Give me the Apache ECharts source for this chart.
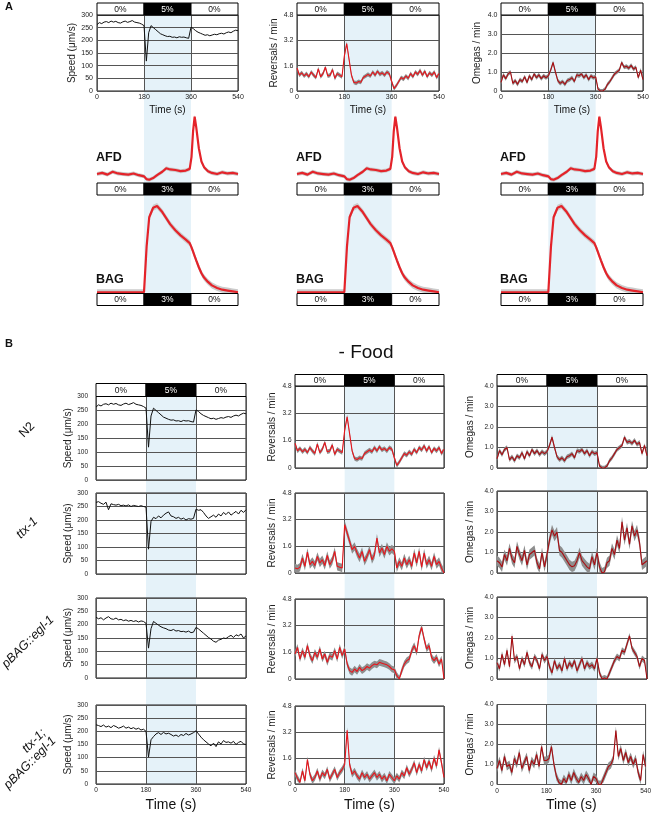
<!DOCTYPE html>
<html>
<head>
<meta charset="utf-8">
<script src="https://cdn.jsdelivr.net/npm/echarts@6/dist/echarts.min.js"></script>
<style>html,body{margin:0;padding:0;background:#fff}#c{width:654px;height:815px}</style>
</head>
<body>
<div id="c"></div>
<script>
(() => {
  "use strict";
  // samples every 9 s, 0..540
  const STEP = 9;
  const STIM_SEG = [[0, 180], [180, 360], [360, 540]];
  const ODOR_LABELS = ["0%", "5%", "0%"];
  const CA_LABELS = ["0%", "3%", "0%"];
  const SHADE = [180, 360];

  const SPEED_N2 = [262, 270, 266, 272, 274, 270, 276, 272, 275, 270, 268, 273, 276, 271, 274, 278, 272, 270, 268, 264,
    258, 118, 230, 258, 250, 242, 234, 226, 222, 218, 215, 216, 212, 213, 210, 214, 212, 213, 210, 208,
    252, 246, 238, 232, 228, 224, 220, 222, 218, 221, 224, 222, 226, 228, 225, 230, 233, 230, 236, 240, 238];
  const SPEED_TTX = [265, 268, 262, 258, 266, 238, 260, 257, 255, 258, 253, 255, 252, 256, 250, 254, 252, 250, 253, 250,
    248, 92, 195, 210, 205, 215, 208, 218, 225, 230, 215, 212, 206, 210, 203, 207, 200, 205, 203, 206,
    240, 236, 238, 228, 215, 206, 212, 218, 210, 222, 215, 228, 220, 230, 218, 225, 232, 222, 236, 228, 238];
  const SPEED_PBAG = [228, 222, 226, 218, 225, 230, 222, 220, 225, 218, 220, 215, 218, 213, 216, 212, 215, 210, 214, 212,
    205, 112, 185, 212, 205, 198, 192, 188, 185, 180, 178, 182, 176, 178, 174, 175, 172, 176, 170, 172,
    190, 184, 176, 168, 160, 152, 146, 138, 134, 142, 145, 150, 148, 155, 160, 152, 162, 158, 165, 150, 158];
  const SPEED_DBL = [225, 222, 218, 224, 216, 220, 214, 222, 218, 212, 215, 220, 212, 216, 210, 214, 208, 212, 205, 208,
    200, 102, 168, 180, 190, 195, 188, 196, 190, 193, 188, 182, 186, 180, 188, 184, 192, 186, 190, 195,
    202, 190, 178, 168, 160, 152, 145, 155, 142, 160, 152, 165, 158, 160, 155, 162, 150, 158, 162, 152, 150];

  const REV_N2 = [1.45, 1.0, 1.15, 0.95, 1.1, 0.9, 1.2, 1.0, 0.85, 1.4, 0.9, 1.1, 1.5, 0.95, 1.0, 1.35, 0.8, 1.1, 1.0, 0.9,
    2.2, 3.0, 2.0, 1.0, 0.55, 0.5, 0.6, 0.55, 0.85, 0.95, 1.05, 0.95, 1.2, 1.0, 1.25, 1.05, 1.15, 1.0, 1.2, 1.1,
    0.6, 0.15, 0.35, 0.6, 0.85, 0.75, 0.95, 0.8, 1.1, 0.9, 1.2, 1.05, 1.3, 1.0, 1.25, 0.9, 1.15, 1.0, 1.2, 0.85, 1.1];
  const REV_TTX = [0.3, 0.25, 0.35, 0.9, 0.4, 1.25, 0.5, 0.7, 0.45, 1.0, 0.6, 0.8, 0.45, 1.05, 0.5, 0.75, 1.3, 0.4, 0.35, 0.3,
    2.9, 2.4, 1.9, 1.4, 1.6, 1.2, 0.9, 1.3, 0.7, 1.0, 1.4, 0.8, 1.1, 2.1, 1.2, 1.5, 1.1, 1.6, 1.3, 1.45,
    1.3, 0.3, 0.7, 0.4, 0.9, 0.5, 0.8, 0.4, 1.2, 0.6, 1.3, 0.35, 1.2, 0.5, 0.8, 0.4, 1.0, 0.5, 0.7, 0.3, 0.0];
  const REV_PBAG = [1.5, 1.9, 1.2, 1.7, 1.3, 2.0, 1.4, 1.1, 1.6, 1.3, 1.8, 1.2, 1.5, 1.0, 1.4, 1.3, 1.7, 1.2, 1.9, 1.4,
    1.8, 0.9, 0.5, 0.4, 0.6, 0.45, 0.7, 0.5, 0.6, 0.75, 0.65, 0.8, 0.9, 0.85, 1.0, 0.95, 0.9, 0.85, 0.75, 0.6,
    0.55, 0.2, 0.0, 0.5, 0.9, 1.1, 1.2, 1.7, 2.0, 1.6, 2.6, 3.1, 2.4, 1.8, 2.0, 1.3, 1.1, 1.3, 0.9, 1.2, 0.0];
  const REV_DBL = [0.7, 0.35, 0.1, 0.8, 0.2, 1.5, 0.6, 0.2, 0.4, 0.8, 0.3, 0.7, 0.5, 0.9, 0.3, 0.6, 0.9, 0.4, 0.7, 0.9,
    1.2, 3.3, 1.2, 0.6, 0.8, 0.5, 0.3, 0.7, 0.4, 0.6, 0.3, 0.5, 0.7, 0.4, 0.6, 0.3, 0.5, 0.2, 0.6, 0.4,
    0.2, 0.5, 0.3, 0.7, 0.5, 1.0, 0.6, 0.9, 1.3, 0.7, 1.2, 0.8, 1.5, 1.0, 1.4, 0.9, 1.6, 1.1, 2.1, 1.3, 0.4];

  const OM_N2 = [0.45, 0.85, 0.65, 0.9, 1.0, 0.4, 0.55, 0.35, 0.6, 0.5, 0.75, 0.45, 0.8, 0.6, 0.9, 0.7, 0.85, 0.65, 0.8, 0.7,
    0.8, 1.1, 1.5, 1.0, 0.55, 0.4, 0.5, 0.35, 0.55, 0.6, 0.7, 0.5, 0.85, 0.8, 0.9, 0.7, 0.85, 0.6, 0.8, 0.7,
    0.75, 0.1, 0.0, 0.0, 0.1, 0.35, 0.5, 0.7, 0.9, 1.0, 1.1, 1.5, 1.25, 1.3, 1.2, 1.35, 1.15, 1.25, 0.7, 1.1, 0.6];
  const OM_TTX = [0.6, 0.5, 0.3, 0.9, 0.6, 1.2, 0.7, 0.5, 1.3, 0.9, 0.6, 1.1, 0.4, 0.9, 1.0, 1.1, 0.5, 0.2, 1.0, 0.3,
    0.9, 1.6, 2.1, 1.8, 2.0, 1.1, 1.0, 0.8, 0.6, 0.4, 0.3, 0.35, 0.6, 1.0, 0.6, 0.45, 0.3, 0.2, 0.8, 0.4,
    1.0, 0.3, 0.0, 0.05, 0.5, 0.6, 1.2, 0.9, 1.6, 1.2, 2.5, 1.6, 2.2, 1.4, 2.3, 1.8, 2.1, 1.5, 0.4, 0.5, 0.6];
  const OM_PBAG = [0.8, 0.5, 1.2, 0.7, 1.4, 0.6, 2.1, 0.9, 1.1, 0.5, 1.0, 0.7, 1.3, 0.8, 0.6, 1.1, 0.9, 0.5, 1.2, 0.9,
    1.1, 0.6, 0.3, 0.9, 0.5, 0.7, 0.4, 1.0, 0.5, 0.8, 0.6, 0.9, 0.4, 0.7, 1.0, 0.5, 0.8, 0.6, 0.7, 0.5,
    1.0, 0.3, 0.0, 0.05, 0.0, 0.3, 0.6, 0.9, 1.1, 1.0, 1.4, 1.3, 1.7, 2.1, 1.5, 1.3, 1.1, 0.6, 1.0, 0.9, 0.0];
  const OM_DBL = [0.8, 1.2, 0.7, 1.4, 0.9, 1.0, 0.6, 1.3, 1.0, 1.6, 0.8, 1.1, 1.4, 0.7, 1.2, 1.0, 1.5, 0.9, 1.9, 1.2,
    1.2, 1.3, 1.9, 1.0, 0.4, 0.1, 0.0, 0.3, 0.1, 0.5, 0.2, 0.6, 0.3, 0.1, 0.4, 0.2, 0.5, 0.3, 0.0, 0.4,
    0.3, 0.0, 0.0, 0.3, 0.6, 0.9, 1.0, 1.3, 2.7, 1.4, 1.8, 1.2, 1.6, 1.1, 1.4, 1.0, 1.3, 0.6, 0.2, 1.5, 0.9];

  // half-width of the grey error band, per genotype row
  const REV_SEM = [0.13, 0.25, 0.2, 0.2];
  const OM_SEM = [0.11, 0.25, 0.15, 0.2];

  // calcium imaging (normalised dF/F)
  const CA_T = [0, 20, 40, 60, 80, 100, 120, 140, 160, 180, 190, 200, 215, 230, 250, 265, 280, 300, 320, 340,
    355, 362, 368, 374, 380, 390, 400, 410, 425, 440, 460, 480, 500, 520, 540];
  const AFD = [0.0, 0.02, -0.01, 0.04, 0.01, 0.0, -0.01, 0.01, -0.02, -0.04, -0.09, -0.1, -0.07, -0.02, 0.04, 0.1, 0.08, 0.07, 0.05, 0.06,
    0.09, 0.3, 0.75, 1.0, 0.82, 0.45, 0.22, 0.12, 0.05, 0.02, 0.0, 0.03, 0.01, 0.02, 0.0];
  const BAG = [0, 0, 0, 0, 0, 0, 0, 0, 0, 0.0, 0.53, 0.87, 0.98, 1.0, 0.93, 0.86, 0.79, 0.72, 0.66, 0.61,
    0.57, 0.52, 0.47, 0.42, 0.37, 0.29, 0.22, 0.17, 0.12, 0.08, 0.05, 0.03, 0.02, 0.01, 0.0];
  const CA_SEM = [0.035, 0.035];

  const ROW_NAMES = ["N2", "ttx-1", "pBAG::egl-1", "ttx-1;", "pBAG::egl-1"];
  const SPEED = [SPEED_N2, SPEED_TTX, SPEED_PBAG, SPEED_DBL];
  const REV = [REV_N2, REV_TTX, REV_PBAG, REV_DBL];
  const OMEGA = [OM_N2, OM_TTX, OM_PBAG, OM_DBL];

  const FONT = '"Liberation Sans", Arial, sans-serif';
  const SHADE_COLOR = "#e5f2f9";
  const fmt1 = v => v === 0 ? "0" : v.toFixed(1);
  const SPEED_CFG = { max: 300, interval: 50, name: "Speed (μm/s)", fmt: v => String(v), line: "#111", width: 1 };
  const REV_CFG = { max: 4.8, interval: 1.6, name: "Reversals / min", fmt: fmt1, line: "#e8141b", width: 1.1 };
  const OM_CFG = { max: 4, interval: 1, name: "Omegas / min", fmt: fmt1, line: "#a80d12", width: 1.1 };

  const grid = [], xAxis = [], yAxis = [], series = [], graphic = [];

  function addGrid(l, t, r, b, gOpt, xOpt, yOpt) {
    const i = grid.length;
    grid.push(Object.assign({ left: l, top: t, width: r - l, height: b - t }, gOpt));
    xAxis.push(Object.assign({ gridIndex: i, type: "value", min: 0, max: 540, show: false }, xOpt));
    yAxis.push(Object.assign({ gridIndex: i, type: "value", show: false }, yOpt));
    return i;
  }

  function shade(l, r, t, b) {
    const i = addGrid(l, t, r, b, {}, {}, { min: 0, max: 1 });
    series.push({
      type: "custom", xAxisIndex: i, yAxisIndex: i, z: -5, silent: true, data: [SHADE],
      renderItem: (p, api) => {
        const a = api.coord([api.value(0), 1]), c = api.coord([api.value(1), 0]);
        return { type: "rect", shape: { x: a[0], y: a[1], width: c[0] - a[0], height: c[1] - a[1] }, style: { fill: SHADE_COLOR } };
      },
    });
  }

  function stimBar(l, r, t, b, labels) {
    const i = addGrid(l, t, r, b, {}, {}, { min: 0, max: 1 });
    series.push({
      type: "custom", xAxisIndex: i, yAxisIndex: i, silent: true, z: 4,
      data: STIM_SEG.map((s, k) => [s[0], s[1], k]),
      renderItem: (p, api) => {
        const a = api.coord([api.value(0), 1]), c = api.coord([api.value(1), 0]);
        const on = p.dataIndex === 1;
        return {
          type: "group", children: [
            { type: "rect", shape: { x: a[0], y: a[1], width: c[0] - a[0], height: c[1] - a[1] }, style: { fill: on ? "#000" : "#fff", stroke: "#000", lineWidth: 1 } },
            { type: "text", style: { text: labels[p.dataIndex], x: (a[0] + c[0]) / 2, y: (a[1] + c[1]) / 2 + 0.5, align: "center", verticalAlign: "middle", fill: on ? "#fff" : "#111", font: `8.5px ${FONT}` } },
          ],
        };
      },
    });
  }

  // grey error band as one polygon (upper edge forward, lower edge back) + mean line
  function bandSeries(i, xs, vals, sem, floor, color, lineColor, lineWidth, clip) {
    const lo = vals.map(v => floor == null ? v - sem : Math.max(floor, v - sem));
    const hi = vals.map(v => v + sem);
    series.push({
      type: "custom", xAxisIndex: i, yAxisIndex: i, silent: true, clip, z: 2, data: [[xs[0], vals[0]]],
      renderItem: (p, api) => {
        const up = xs.map((x, k) => api.coord([x, hi[k]]));
        const dn = xs.map((x, k) => api.coord([x, lo[k]])).reverse();
        return { type: "polygon", shape: { points: up.concat(dn) }, style: { fill: color } };
      },
    });
    series.push({ type: "line", xAxisIndex: i, yAxisIndex: i, showSymbol: false, silent: true, clip, z: 3,
      data: vals.map((v, k) => [xs[k], v]), lineStyle: { color: lineColor, width: lineWidth } });
  }

  function plot(l, t, r, b, cfg, vals, sem, o) {
    const i = addGrid(l, t, r, b,
      { show: true, borderColor: "#1a1a1a", borderWidth: 1, backgroundColor: "transparent" },
      {
        show: true, interval: 180, axisLine: { show: false }, axisTick: { show: false },
        axisLabel: { show: !!o.xName, fontSize: o.tick, color: "#222", margin: 3, showMinLabel: true, showMaxLabel: true },
        splitLine: { show: true, lineStyle: { color: "#555", width: 1 } },
        name: o.xName || "", nameLocation: "middle", nameGap: 14, nameTextStyle: { fontSize: o.xNameSize, color: "#111", fontFamily: FONT },
      },
      {
        show: true, min: 0, max: cfg.max, interval: cfg.interval, axisLine: { show: false }, axisTick: { show: false },
        axisLabel: { fontSize: o.tick, color: "#222", margin: o.margin, formatter: cfg.fmt },
        splitLine: { show: true, lineStyle: { color: "#555", width: 1 } },
        name: cfg.name, nameLocation: "middle", nameRotate: 90, nameGap: o.gap, nameTextStyle: { fontSize: 10, color: "#222", fontFamily: FONT },
      });
    const xs = vals.map((_, k) => k * STEP);
    if (sem == null) {
      series.push({ type: "line", xAxisIndex: i, yAxisIndex: i, showSymbol: false, silent: true, z: 3, data: vals.map((v, k) => [xs[k], v]), lineStyle: { color: cfg.line, width: cfg.width } });
    } else {
      bandSeries(i, xs, vals, sem, 0, "#8e8e8e", cfg.line, cfg.width, true);
    }
  }

  function calcium(l, r, t, b, min, max, vals, sem) {
    const i = addGrid(l, t, r, b, {}, {}, { min, max });
    bandSeries(i, CA_T, vals, sem, null, "#cbcbcb", "#e4232a", 2.2, false);
  }

  function text(x, y, s, style, rotation) {
    graphic.push({ type: "text", x, y, rotation: rotation || 0, silent: true,
      style: Object.assign({ text: s, fill: "#111", align: "center", verticalAlign: "middle", font: `12px ${FONT}` }, style) });
  }

  // ---- panel A ----
  const A_COLS = [
    { l: 97, r: 238, cfg: SPEED_CFG, vals: SPEED_N2, sem: null, gap: 19, margin: 4 },
    { l: 297, r: 439, cfg: REV_CFG, vals: REV_N2, sem: REV_SEM[0], gap: 18, margin: 3.5 },
    { l: 501, r: 643, cfg: OM_CFG, vals: OM_N2, sem: OM_SEM[0], gap: 19, margin: 3.5 },
  ];
  A_COLS.forEach(c => {
    shade(c.l, c.r, 15, 293.5);
    stimBar(c.l, c.r, 3, 15, ODOR_LABELS);
    plot(c.l, 15, c.r, 91, c.cfg, c.vals, c.sem, { xName: "Time (s)", xNameSize: 10, tick: 7, gap: c.gap, margin: c.margin });
    calcium(c.l, c.r, 111, 185.5, -0.2, 1.1, AFD, CA_SEM[0]);
    stimBar(c.l, c.r, 183, 195, CA_LABELS);
    calcium(c.l, c.r, 197.4, 300.9, -0.1, 1.1, BAG, CA_SEM[1]);
    stimBar(c.l, c.r, 293.5, 305.5, CA_LABELS);
    text(c.l - 1, 158, "AFD", { align: "left", font: `bold 12.5px ${FONT}` });
    text(c.l - 1, 280, "BAG", { align: "left", font: `bold 12.5px ${FONT}` });
  });
  text(9, 7, "A", { font: `bold 11px ${FONT}` });

  // ---- panel B ----
  const B_COLS = [
    { l: 96, r: 246, cfg: SPEED_CFG, data: SPEED, sems: null, rows: [[396.5, 480], [493, 574], [598, 678], [705, 784]], bar: [383.5, 396.5], gap: 22, margin: 8 },
    { l: 295, r: 444, cfg: REV_CFG, data: REV, sems: REV_SEM, rows: [[386, 468], [493, 573], [599, 679], [706, 784]], bar: [374.5, 386], gap: 18, margin: 3.5 },
    { l: 497, r: 647, cfg: OM_CFG, data: OMEGA, sems: OM_SEM, rows: [[386, 468], [491, 573], [597, 679], [704.5, 784.5]], bar: [374.5, 386], gap: 22, margin: 3.5 },
  ];
  B_COLS.forEach(c => {
    shade(c.l, c.r, c.rows[0][0], c.rows[3][1]);
    stimBar(c.l, c.r, c.bar[0], c.bar[1], ODOR_LABELS);
    c.rows.forEach((rw, k) => {
      const last = k === c.rows.length - 1;
      plot(c.l, rw[0], c.r, rw[1], c.cfg, c.data[k], c.sems ? c.sems[k] : null,
        { xName: last ? "Time (s)" : null, xNameSize: 14, tick: 6.5, gap: c.gap, margin: c.margin });
    });
  });
  text(9, 344, "B", { font: `bold 11px ${FONT}` });
  text(366, 353, "- Food", { font: `19px ${FONT}` });
  const ROW_POS = [[27, 430], [27, 528], [28, 642], [34, 741], [30, 763]];
  ROW_NAMES.forEach((n, k) => {
    text(ROW_POS[k][0], ROW_POS[k][1], n, { font: `${k === 0 ? "" : "italic "}12.5px ${FONT}` }, Math.PI / 4);
  });

  const chart = echarts.init(document.getElementById("c"));
  chart.setOption({
    animation: false,
    textStyle: { fontFamily: FONT },
    grid, xAxis, yAxis, series, graphic,
  });
})();
</script>
</body>
</html>
